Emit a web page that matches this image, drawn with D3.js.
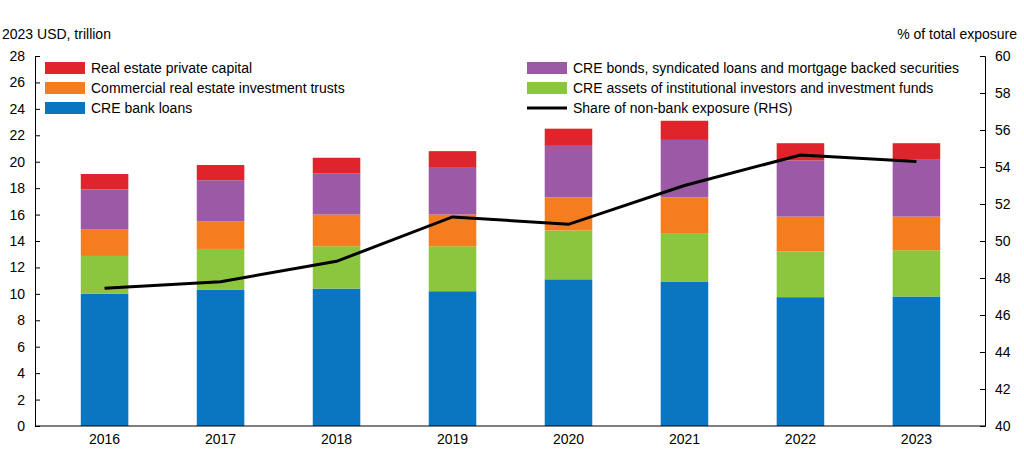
<!DOCTYPE html>
<html><head><meta charset="utf-8">
<script src="https://cdn.jsdelivr.net/npm/d3@7"></script>
<style>body{margin:0;background:#fff}text{font-family:"Liberation Sans",Arial,sans-serif}</style>
</head><body><div id="chart"></div>
<script>
const years = ['2016','2017','2018','2019','2020','2021','2022','2023'];
const bankLoans = [10.0, 10.3, 10.4, 10.2, 11.1, 10.9, 9.75, 9.8];
const institutional = [2.87, 3.1, 3.2, 3.4, 3.7, 3.7, 3.45, 3.5];
const reits = [2.03, 2.1, 2.4, 2.4, 2.5, 2.7, 2.65, 2.55];
const bonds = [3.0, 3.1, 3.1, 3.6, 3.9, 4.35, 4.25, 4.35];
const privateCapital = [1.17, 1.15, 1.2, 1.2, 1.3, 1.45, 1.3, 1.2];
const nonBankShare = [47.45, 47.8, 48.9, 51.3, 50.9, 53.0, 54.65, 54.3];
const leftTicks = d3.range(0, 29, 2);
const rightTicks = d3.range(40, 61, 2);

const WIDTH = 1024, HEIGHT = 459;
const PLOT = { TOP: 56, BOTTOM: 426, LEFT: 35, RIGHT: 985 };

const series = [
  { key: 'bank', values: bankLoans, color: '#0a76c2' },
  { key: 'inst', values: institutional, color: '#8cc63f' },
  { key: 'reit', values: reits, color: '#f47d20' },
  { key: 'bonds', values: bonds, color: '#9b59a6' },
  { key: 'pc', values: privateCapital, color: '#e0242b' }
];
const rows = years.map((y, i) => {
  const r = { year: y };
  series.forEach(s => r[s.key] = s.values[i]);
  return r;
});
const stacked = d3.stack().keys(series.map(s => s.key))(rows);

const svg = d3.select('#chart').append('svg').attr('width', WIDTH).attr('height', HEIGHT);

const x = d3.scaleBand().domain(years).range([46, 975]).paddingInner(0.59).paddingOuter(0.3);
const yL = d3.scaleLinear().domain([0, 28]).range([PLOT.BOTTOM, PLOT.TOP]);
const yR = d3.scaleLinear().domain([40, 60]).range([PLOT.BOTTOM, PLOT.TOP]);

svg.append('g').selectAll('g').data(stacked).enter().append('g')
  .attr('fill', (d, i) => series[i].color)
  .selectAll('rect').data(d => d).enter().append('rect')
  .attr('x', d => x(d.data.year))
  .attr('width', x.bandwidth())
  .attr('y', d => yL(d[1]))
  .attr('height', d => yL(d[0]) - yL(d[1]));

svg.append('path').datum(nonBankShare)
  .attr('fill', 'none').attr('stroke', '#000').attr('stroke-width', 3)
  .attr('d', d3.line().x((d, i) => x(years[i]) + x.bandwidth() / 2).y(d => yR(d)));

const axL = svg.append('g').attr('transform', `translate(${PLOT.LEFT},0)`)
  .call(d3.axisLeft(yL).tickValues(leftTicks).tickSize(-5).tickPadding(10));
const axR = svg.append('g').attr('transform', `translate(${PLOT.RIGHT},0)`)
  .call(d3.axisRight(yR).tickValues(rightTicks).tickSize(-5).tickPadding(10));
const axX = svg.append('g').attr('transform', `translate(0,${PLOT.BOTTOM})`)
  .call(d3.axisBottom(x).tickSize(0).tickPadding(8));
axX.select('.domain').attr('d', `M${PLOT.LEFT},0H${PLOT.RIGHT}`);
[axL, axR, axX].forEach(a => {
  a.selectAll('text').attr('font-size', 14).attr('fill', '#000');
  a.selectAll('.domain,line').attr('stroke', '#000');
});

svg.append('text').attr('x', 2).attr('y', 39).attr('font-size', 14).text('2023 USD, trillion');
svg.append('text').attr('x', 1017).attr('y', 39).attr('font-size', 14).attr('text-anchor', 'end').text('% of total exposure');

const legend = [
  { label: 'Real estate private capital', color: '#e0242b', x: 45, y: 68 },
  { label: 'Commercial real estate investment trusts', color: '#f47d20', x: 45, y: 88 },
  { label: 'CRE bank loans', color: '#0a76c2', x: 45, y: 108 },
  { label: 'CRE bonds, syndicated loans and mortgage backed securities', color: '#9b59a6', x: 527, y: 68 },
  { label: 'CRE assets of institutional investors and investment funds', color: '#8cc63f', x: 527, y: 88 },
  { label: 'Share of non-bank exposure (RHS)', color: '#000', x: 527, y: 108, line: true }
];
const lg = svg.append('g').selectAll('g').data(legend).enter().append('g')
  .attr('transform', d => `translate(${d.x},${d.y})`);
lg.append('rect').attr('x', 0).attr('width', 40)
  .attr('y', d => d.line ? -1.5 : -6).attr('height', d => d.line ? 3 : 12)
  .attr('fill', d => d.color);
lg.append('text').attr('x', 46).attr('y', 5).attr('font-size', 14).text(d => d.label);
</script></body></html>
